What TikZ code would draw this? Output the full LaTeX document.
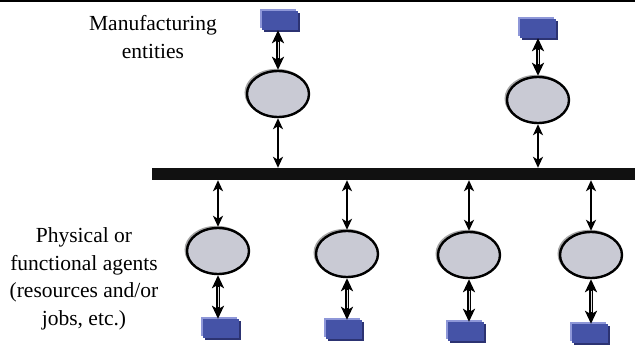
\documentclass[tikz,border=0pt]{standalone}
\usepackage{fontspec}
\setmainfont{Liberation Serif}
\usetikzlibrary{arrows.meta,shapes.geometric,shadows,calc}
\definecolor{boxmid}{HTML}{4553A7}
\definecolor{boxlight}{HTML}{8E97D8}
\definecolor{boxdark}{HTML}{2C3372}
\definecolor{ellfill}{HTML}{C9CAD4}
\definecolor{barcol}{HTML}{111111}
\tikzset{
  entity/.style={rectangle, draw=none, fill=boxmid, minimum width=36pt, minimum height=19pt, inner sep=0pt,
    general shadow={fill=boxlight, shadow xshift=-2pt, shadow yshift=2pt},
    general shadow={fill=boxdark, shadow xshift=2pt, shadow yshift=-2pt}},
  agent/.style={ellipse, draw=black, line width=2.4pt, fill=ellfill, minimum width=62pt, minimum height=46pt, inner sep=0pt,
    general shadow={draw=gray!70, line width=2pt, fill=none, shadow xshift=-1.5pt, shadow yshift=1.2pt}},
  thinarrow/.style={line width=1.6pt, {Stealth[length=11pt,width=10pt,inset=3pt]}-{Stealth[length=11pt,width=10pt,inset=3pt]}},
  fatarrow/.style={line width=4.4pt, {Stealth[length=13pt,width=12pt,inset=3.5pt]}-{Stealth[length=13pt,width=12pt,inset=3.5pt]}},
  fatcore/.style={line width=0.8pt, white!75!gray, shorten <=12pt, shorten >=12pt},
  lbl/.style={align=center, font=\fontsize{21.5}{27.5}\selectfont, inner sep=0pt}
}
\begin{document}
\begin{tikzpicture}[x=1pt,y=-1pt]
\useasboundingbox (0,0) rectangle (635,345);
% top rule
\coordinate (rl) at (0,0.8);
\coordinate (rr) at (635,0.8);
\draw[line width=1.6pt] (rl) -- (rr);
% bus
\node[rectangle, fill=barcol, minimum width=483pt, minimum height=12pt, inner sep=0pt] (bar) at (393.5,174) {};
% labels
\node[lbl] (mlab) at (153,37) {Manufacturing\\entities};
\node[lbl] (plab) at (84,279) {Physical or\\functional agents\\(resources and/or\\jobs, etc.)};
% top agents
\node[entity] (t1b) at (280,20.5) {};
\node[agent] (t1e) at (278,94) {};
\node[entity] (t2b) at (538,28.5) {};
\node[agent] (t2e) at (538,100) {};
% bottom agents
\node[agent] (b1e) at (218,251) {};
\node[agent] (b2e) at (347,254) {};
\node[agent] (b3e) at (469,255) {};
\node[agent] (b4e) at (591,255) {};
\node[entity] (b1b) at (221,328.5) {};
\node[entity] (b2b) at (344,329.5) {};
\node[entity] (b3b) at (466,331.5) {};
\node[entity] (b4b) at (590,333.5) {};
% arrows top
\foreach \b/\e in {t1b/t1e,t2b/t2e}{
  \draw[fatarrow] (\e.north |- \b.south) -- (\e.north);
  \draw[fatcore] (\e.north |- \b.south) -- (\e.north);
  \draw[thinarrow] (\e.south) -- (\e.south |- bar.north);
}
% arrows bottom
\foreach \b/\e in {b1b/b1e,b2b/b2e,b3b/b3e,b4b/b4e}{
  \draw[thinarrow] (\e.north |- bar.south) -- (\e.north);
  \draw[fatarrow] (\e.south) -- (\e.south |- \b.north);
  \draw[fatcore] (\e.south) -- (\e.south |- \b.north);
}
\end{tikzpicture}
\end{document}
